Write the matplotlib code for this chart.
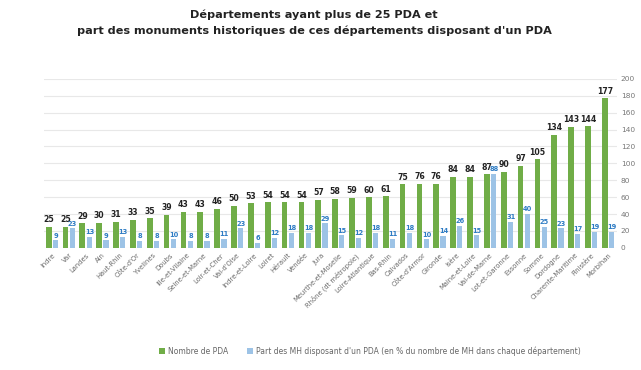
import matplotlib.pyplot as plt
import numpy as np

departements = ["Indre", "Var", "Landes", "Ain", "Haut-Rhin", "Côte-d'Or", "Yvelines", "Doubs",
                "Ille-et-Vilaine", "Seine-et-Marne", "Loir-et-Cher", "Val-d'Oise", "Indre-et-Loire",
                "Loiret", "Hérault", "Vendée", "Jura", "Meurthe-et-Moselle", "Rhône (dt métropole)",
                "Loire-Atlantique", "Bas-Rhin", "Calvados", "Côte-d'Armor", "Gironde", "Isère",
                "Maine-et-Loire", "Val-de-Marne", "Lot-et-Garonne", "Essonne", "Somme", "Dordogne",
                "Charente-Maritime", "Finistère", "Morbihan"]
nb_pda = [25, 25, 29, 30, 31, 33, 35, 39, 43, 43, 46, 50, 53, 54, 54, 54, 57, 58, 59, 60, 61,
          75, 76, 76, 84, 84, 87, 90, 97, 105, 134, 143, 144, 177]
part_mh = [9, 23, 13, 9, 13, 8, 8, 10, 8, 8, 11, 23, 6, 12, 18, 18, 29, 15, 12, 18, 11,
           18, 10, 14, 26, 15, 88, 31, 40, 25, 23, 17, 19, 19]

vert = "#70AD47"
bleu = "#9DC3E6"

fig = plt.figure(figsize=(6.41, 3.70), dpi=100)
ax = fig.add_axes([0.068, 0.33, 0.894, 0.457])

x = np.arange(len(departements))
w = 0.34
ax.bar(x - 0.2, nb_pda, w, color=vert, label="Nombre de PDA", zorder=3)
ax.bar(x + 0.2, part_mh, w * 0.9, color=bleu,
       label="Part des MH disposant d'un PDA (en % du nombre de MH dans chaque département)", zorder=3)

for xi, v in zip(x, nb_pda):
    ax.text(xi - 0.2, v + 3, str(v), ha="center", va="bottom", fontsize=5.6,
            fontweight="bold", color="#222222")
for xi, v in zip(x, part_mh):
    ax.text(xi + 0.22, v + 2, str(v), ha="center", va="bottom", fontsize=4.8,
            fontweight="bold", color="#2E7CC4")

ax.set_xlim(-0.5, len(x) - 0.5)
ax.set_ylim(0, 200)
ax.set_yticks(range(0, 201, 20))
ax.yaxis.tick_right()
ax.tick_params(axis="y", length=0, labelsize=5.3, labelcolor="#777777", pad=3)
ax.set_xticks(x)
ax.set_xticklabels(departements, rotation=45, ha="right", rotation_mode="anchor",
                   fontsize=4.9, color="#6A6A6A")
ax.tick_params(axis="x", length=0, pad=3)
ax.grid(axis="y", color="#E8E8E8", linewidth=0.8, zorder=0)
for s in ax.spines.values():
    s.set_visible(False)

fig.suptitle("Départements ayant plus de 25 PDA et\npart des monuments historiques de ces départements disposant d'un PDA",
             fontsize=8.1, fontweight="bold", color="#222222", y=0.975, x=0.49, linespacing=1.7)

fig.legend(loc="lower center", bbox_to_anchor=(0.577, 0.02), ncol=2, frameon=False,
           fontsize=5.5, labelcolor="#666666", handlelength=0.7, handleheight=0.7,
           columnspacing=2.5, handletextpad=0.4)

fig.savefig("out.png", dpi=100)
